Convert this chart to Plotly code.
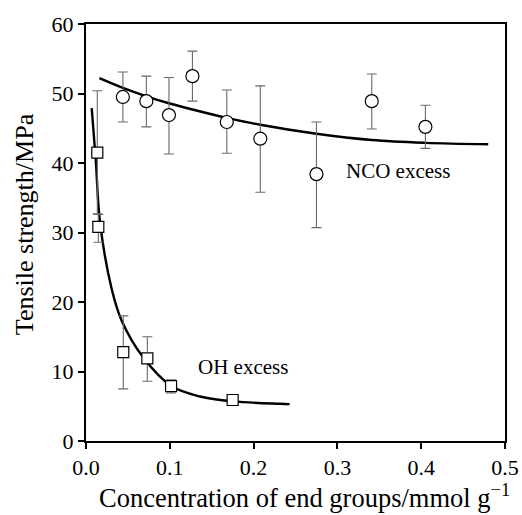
import plotly.graph_objects as go

# NCO excess (circles)
nco_x = [0.044, 0.072, 0.099, 0.127, 0.168, 0.208, 0.275, 0.341, 0.405]
nco_y = [49.5, 48.9, 46.9, 52.5, 45.9, 43.5, 38.4, 48.9, 45.2]
nco_hi = [53.1, 52.5, 52.3, 56.1, 50.5, 51.1, 45.9, 52.8, 48.3]
nco_lo = [45.9, 45.2, 41.3, 48.9, 41.4, 35.8, 30.7, 44.9, 42.1]

# OH excess (squares)
oh_x = [0.0135, 0.0147, 0.0445, 0.0732, 0.1015, 0.175]
oh_y = [41.5, 30.8, 12.8, 11.9, 7.9, 5.9]
oh_hi = [50.4, 32.6, 18.0, 15.0, 8.8, 6.4]
oh_lo = [32.7, 28.6, 7.5, 8.6, 6.9, 5.5]

# Fitted curves
nco_fit_x = [0.016, 0.044, 0.072, 0.099, 0.127, 0.168, 0.208, 0.275, 0.341, 0.405, 0.48]
nco_fit_y = [52.2, 50.8, 49.6, 48.6, 47.7, 46.5, 45.5, 44.2, 43.3, 42.9, 42.7]
oh_fit_x = [0.0068, 0.0116, 0.0167, 0.0306, 0.0426, 0.0684, 0.102, 0.136, 0.176, 0.2315, 0.243]
oh_fit_y = [47.9, 40.5, 31.5, 21.9, 17.3, 12.0, 7.9, 6.4, 5.7, 5.35, 5.3]

x_ticks = [0.0, 0.1, 0.2, 0.3, 0.4, 0.5]
x_tick_text = ["0.0", "0.1", "0.2", "0.3", "0.4", "0.5"]
y_ticks = [0, 10, 20, 30, 40, 50, 60]

x_title = "Concentration of end groups/mmol g<sup>\u22121</sup>"
y_title = "Tensile strength/MPa"

FONT = "Liberation Serif, Times New Roman, serif"
ERR_COLOR = "#6a6a6a"

fig = go.Figure()

fig.add_trace(go.Scatter(
    x=nco_fit_x, y=nco_fit_y, mode="lines",
    line=dict(color="black", width=2.4, shape="spline", smoothing=1.0),
    hoverinfo="skip", showlegend=False))
fig.add_trace(go.Scatter(
    x=oh_fit_x, y=oh_fit_y, mode="lines",
    line=dict(color="black", width=2.4, shape="spline", smoothing=1.0),
    hoverinfo="skip", showlegend=False))

fig.add_trace(go.Scatter(
    x=nco_x, y=nco_y, mode="markers", name="NCO excess",
    marker=dict(symbol="circle", size=13, color="white",
                line=dict(color="black", width=1.2)),
    error_y=dict(type="data", symmetric=False,
                 array=[h - v for h, v in zip(nco_hi, nco_y)],
                 arrayminus=[v - l for l, v in zip(nco_lo, nco_y)],
                 color=ERR_COLOR, thickness=1.1, width=5),
    showlegend=False))

fig.add_trace(go.Scatter(
    x=oh_x, y=oh_y, mode="markers", name="OH excess",
    marker=dict(symbol="square", size=11, color="white",
                line=dict(color="black", width=1.2)),
    error_y=dict(type="data", symmetric=False,
                 array=[h - v for h, v in zip(oh_hi, oh_y)],
                 arrayminus=[v - l for l, v in zip(oh_lo, oh_y)],
                 color=ERR_COLOR, thickness=1.1, width=5),
    showlegend=False))

fig.add_annotation(x=0.372, y=38.9, xref="x", yref="y", text="NCO excess",
                   showarrow=False, font=dict(family=FONT, size=21, color="black"))
fig.add_annotation(x=0.187, y=10.7, xref="x", yref="y", text="OH excess",
                   showarrow=False, font=dict(family=FONT, size=21, color="black"))

# Axis titles
fig.add_annotation(x=0.5215, y=-0.131, xref="paper", yref="paper", text=x_title,
                   showarrow=False, xanchor="center", yanchor="middle",
                   font=dict(family=FONT, size=26.5, color="black"))
fig.add_annotation(x=-0.148, y=0.52, xref="paper", yref="paper", text=y_title,
                   showarrow=False, xanchor="center", yanchor="middle", textangle=-90,
                   font=dict(family=FONT, size=26, color="black"))

fig.update_layout(
    width=522, height=515,
    margin=dict(l=86, r=17, t=24, b=74, autoexpand=False),
    paper_bgcolor="white", plot_bgcolor="white",
    font=dict(family=FONT, color="black", size=22),
    xaxis=dict(range=[0, 0.5], tickvals=x_ticks, ticktext=x_tick_text,
               automargin=False,
               showgrid=False, zeroline=False,
               showline=True, linecolor="black", linewidth=2, mirror=True,
               ticks="outside", ticklen=6, tickwidth=1.5, tickcolor="black",
               tickfont=dict(family=FONT, size=22)),
    yaxis=dict(range=[0, 60], tickvals=y_ticks,
               automargin=False,
               showgrid=False, zeroline=False,
               showline=True, linecolor="black", linewidth=2, mirror=True,
               ticks="outside", ticklen=6, tickwidth=1.5, tickcolor="black",
               tickfont=dict(family=FONT, size=22)),
)

fig.write_html("out.html")
